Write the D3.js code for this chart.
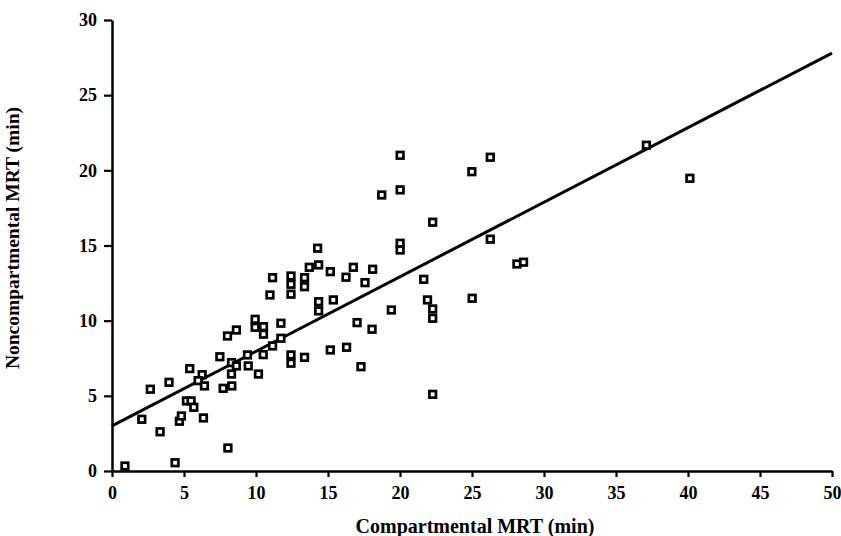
<!DOCTYPE html>
<html><head><meta charset="utf-8">
<script src="https://cdn.jsdelivr.net/npm/d3@7"></script>
<style>
body{margin:0;background:#fff;}
svg text{font-family:"Liberation Serif","DejaVu Serif",serif;font-weight:bold;fill:#000;}
</style></head><body>
<svg id="c" width="841" height="536"></svg>
<script>
const compartmental = [0.90,4.38,8.05,2.07,2.66,3.34,3.96,4.68,4.82,5.17,5.49,5.68,5.40,6.35,6.26,5.98,6.42,7.49,7.72,8.32,8.30,8.30,8.64,9.46,9.41,10.17,10.50,12.43,12.43,8.02,8.64,9.94,9.94,10.52,10.52,11.73,11.73,11.15,11.15,10.97,12.43,12.43,12.43,13.37,13.37,13.37,13.70,14.35,14.28,14.35,14.35,15.16,15.37,15.16,16.29,16.25,16.76,17.02,17.29,17.57,18.10,18.06,18.73,19.40,20.01,20.01,20.01,20.01,21.65,21.91,22.27,22.27,22.27,22.27,25.01,24.99,26.27,26.27,28.12,28.58,37.11,40.13];
const noncompartmental = [0.33,0.55,1.53,3.44,5.44,2.61,5.90,3.31,3.66,4.66,4.66,4.24,6.81,3.53,6.41,6.01,5.66,7.60,5.50,5.66,6.45,7.21,6.99,6.99,7.72,6.45,7.74,7.72,7.17,8.98,9.38,10.09,9.56,9.60,9.10,9.83,8.83,8.32,12.86,11.71,12.97,12.42,11.76,12.86,12.26,7.56,13.55,13.71,14.82,11.26,10.65,13.26,11.38,8.05,8.23,12.89,13.55,9.87,6.94,12.53,13.42,9.43,18.36,10.71,21.00,18.70,15.15,14.70,12.75,11.38,10.78,10.16,16.55,5.10,11.49,19.91,20.87,15.42,13.77,13.89,21.67,19.47];
const regression = {intercept: 3.0, slope: 0.496};
const xTicks = [0,5,10,15,20,25,30,35,40,45,50];
const yTicks = [0,5,10,15,20,25,30];
const xLabel = "Compartmental MRT (min)";
const yLabel = "Noncompartmental MRT (min)";

const svg = d3.select("#c");
const L=112, T=20, W=720, H=451;
const x = d3.scaleLinear().domain([0,50]).range([L, L+W]);
const y = d3.scaleLinear().domain([0,30]).range([T+H, T]);

const line = d3.line().x(d=>x(d)).y(d=>y(regression.intercept+regression.slope*d));
svg.append("path").datum([0,50]).attr("d",line).attr("fill","none").attr("stroke","#000").attr("stroke-width",3);

const gx = svg.append("g").attr("transform",`translate(0,${T+H})`)
  .call(d3.axisBottom(x).tickValues(xTicks).tickSize(6).tickPadding(9).tickSizeOuter(0));
const gy = svg.append("g").attr("transform",`translate(${L},0)`)
  .call(d3.axisLeft(y).tickValues(yTicks).tickSize(8).tickPadding(7).tickSizeOuter(0));
[gx,gy].forEach(g=>{
  g.select(".domain").attr("stroke","#000").attr("stroke-width",2.5);
  g.selectAll(".tick line").attr("stroke","#000").attr("stroke-width",2.2);
  g.selectAll(".tick text").attr("font-size",18).attr("font-family","Liberation Serif").attr("font-weight","bold").attr("fill","#000");
});

const pts = compartmental.map((c,i)=>[c, noncompartmental[i]]);
svg.append("g").selectAll("rect").data(pts).join("rect")
  .attr("x",d=>x(d[0])-3.3).attr("y",d=>y(d[1])-3.3)
  .attr("width",6.6).attr("height",6.6)
  .attr("fill","#fff").attr("stroke","#000").attr("stroke-width",2.7);

svg.append("text").attr("x",475).attr("y",533).attr("text-anchor","middle").attr("font-size",20).text(xLabel);
svg.append("text").attr("transform","translate(19,238) rotate(-90)").attr("text-anchor","middle").attr("font-size",19.5).text(yLabel);
</script></body></html>
